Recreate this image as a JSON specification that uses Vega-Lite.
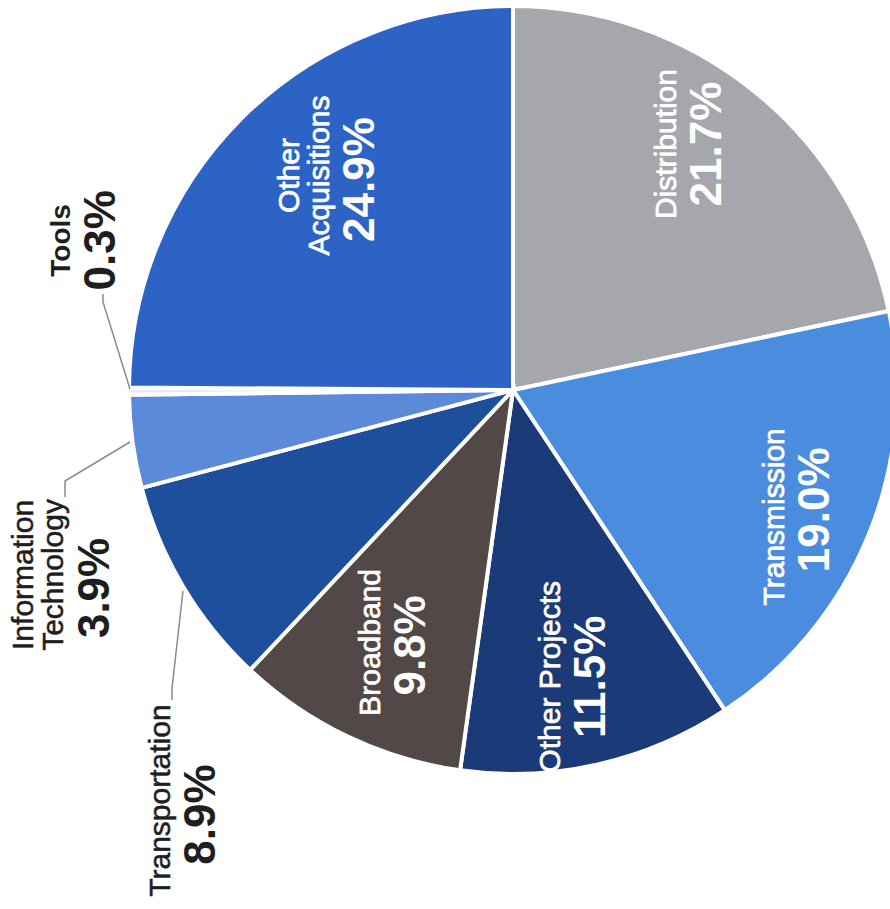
{
  "$schema": "https://vega.github.io/schema/vega-lite/v6.json",
  "width": 1026,
  "height": 780,
  "autosize": "none",
  "padding": {"top": 0, "left": 0, "right": 0, "bottom": 130},
  "background": "white",
  "config": {"view": {"stroke": null}},
  "layer": [
    {
      "data": {"values": [
        {"idx": 1, "cat": "Distribution", "value": 21.7, "name": "Distribution", "pct": "21.7%"},
        {"idx": 2, "cat": "Transmission", "value": 19.0, "name": "Transmission", "pct": "19.0%"},
        {"idx": 3, "cat": "Other Projects", "value": 11.5, "name": "Other Projects", "pct": "11.5%"},
        {"idx": 4, "cat": "Broadband", "value": 9.8, "name": "Broadband", "pct": "9.8%"},
        {"idx": 5, "cat": "Transportation", "value": 8.9, "name": "Transportation", "pct": "8.9%"},
        {"idx": 6, "cat": "Information Technology", "value": 3.9, "name": "Information|Technology", "pct": "3.9%"},
        {"idx": 7, "cat": "Tools", "value": 0.3, "name": "Tools", "pct": "0.3%"},
        {"idx": 8, "cat": "Other Acquisitions", "value": 24.9, "name": "Other|Acquisitions", "pct": "24.9%"}
      ]},
      "encoding": {
        "theta": {"field": "value", "type": "quantitative", "stack": true},
        "order": {"field": "idx", "type": "quantitative"}
      },
      "layer": [
        {
          "mark": {"type": "arc", "outerRadius": 384, "stroke": "white", "strokeWidth": 4},
          "encoding": {
            "color": {"field": "cat", "type": "nominal", "legend": null,
              "scale": {
                "domain": ["Distribution", "Transmission", "Other Projects", "Broadband", "Transportation", "Information Technology", "Tools", "Other Acquisitions"],
                "range": ["#a6a7ad", "#4a8ddf", "#1b3a78", "#524848", "#1e4f9c", "#5b8ad8", "#e4ebf6", "#2c63c5"]
              }}
          }
        },
        {"mark": {"type": "text", "radius": 300, "angle": 270, "align": "center", "baseline": "bottom", "dx": 13, "dy": -20, "fontSize": 30, "font": "Liberation Sans", "fill": "white", "stroke": "white", "strokeWidth": 0.7, "lineBreak": "|", "lineHeight": 30},
         "encoding": {"text": {"condition": {"test": "datum.cat === 'Distribution'", "field": "name"}, "value": ""}}},
        {"mark": {"type": "text", "radius": 300, "angle": 270, "align": "center", "baseline": "top", "dx": 13, "dy": -16, "fontSize": 44, "fontWeight": "bold", "font": "Liberation Sans", "fill": "white"},
         "encoding": {"text": {"condition": {"test": "datum.cat === 'Distribution'", "field": "pct"}, "value": ""}}},

        {"mark": {"type": "text", "radius": 305, "angle": 270, "align": "center", "baseline": "bottom", "dx": -11, "dy": -5, "fontSize": 30, "font": "Liberation Sans", "fill": "white", "stroke": "white", "strokeWidth": 0.7, "lineBreak": "|", "lineHeight": 30},
         "encoding": {"text": {"condition": {"test": "datum.cat === 'Transmission'", "field": "name"}, "value": ""}}},
        {"mark": {"type": "text", "radius": 305, "angle": 270, "align": "center", "baseline": "top", "dx": -4, "dy": -1, "fontSize": 44, "fontWeight": "bold", "font": "Liberation Sans", "fill": "white"},
         "encoding": {"text": {"condition": {"test": "datum.cat === 'Transmission'", "field": "pct"}, "value": ""}}},

        {"mark": {"type": "text", "radius": 292, "angle": 270, "align": "center", "baseline": "bottom", "dx": -2, "dy": -12, "fontSize": 30, "font": "Liberation Sans", "fill": "white", "stroke": "white", "strokeWidth": 0.7, "lineBreak": "|", "lineHeight": 30},
         "encoding": {"text": {"condition": {"test": "datum.cat === 'Other Projects'", "field": "name"}, "value": ""}}},
        {"mark": {"type": "text", "radius": 292, "angle": 270, "align": "center", "baseline": "top", "dx": -2, "dy": -8, "fontSize": 44, "fontWeight": "bold", "font": "Liberation Sans", "fill": "white"},
         "encoding": {"text": {"condition": {"test": "datum.cat === 'Other Projects'", "field": "pct"}, "value": ""}}},

        {"mark": {"type": "text", "radius": 282, "angle": 270, "align": "center", "baseline": "bottom", "dx": 2, "dy": -5, "fontSize": 30, "font": "Liberation Sans", "fill": "white", "stroke": "white", "strokeWidth": 0.7, "lineBreak": "|", "lineHeight": 30},
         "encoding": {"text": {"condition": {"test": "datum.cat === 'Broadband'", "field": "name"}, "value": ""}}},
        {"mark": {"type": "text", "radius": 282, "angle": 270, "align": "center", "baseline": "top", "dx": -1, "dy": -1, "fontSize": 44, "fontWeight": "bold", "font": "Liberation Sans", "fill": "white"},
         "encoding": {"text": {"condition": {"test": "datum.cat === 'Broadband'", "field": "pct"}, "value": ""}}},

        {"mark": {"type": "text", "radius": 277, "angle": 270, "align": "center", "baseline": "bottom", "dx": 18, "dy": -13, "fontSize": 30, "font": "Liberation Sans", "fill": "white", "stroke": "white", "strokeWidth": 0.7, "lineBreak": "|", "lineHeight": 30},
         "encoding": {"text": {"condition": {"test": "datum.cat === 'Other Acquisitions'", "field": "name"}, "value": ""}}},
        {"mark": {"type": "text", "radius": 277, "angle": 270, "align": "center", "baseline": "top", "dx": 14, "dy": 21, "fontSize": 44, "fontWeight": "bold", "font": "Liberation Sans", "fill": "white"},
         "encoding": {"text": {"condition": {"test": "datum.cat === 'Other Acquisitions'", "field": "pct"}, "value": ""}}},

        {"mark": {"type": "text", "radius": 433, "angle": 270, "align": "center", "baseline": "bottom", "dx": 151, "dy": -4, "fontSize": 28, "fontWeight": "bold", "font": "Liberation Sans", "fill": "#1e1e1e"},
         "encoding": {"text": {"condition": {"test": "datum.cat === 'Tools'", "field": "name"}, "value": ""}}},
        {"mark": {"type": "text", "radius": 433, "angle": 270, "align": "center", "baseline": "top", "dx": 151, "dy": 0, "fontSize": 44, "fontWeight": "bold", "font": "Liberation Sans", "fill": "#1e1e1e"},
         "encoding": {"text": {"condition": {"test": "datum.cat === 'Tools'", "field": "pct"}, "value": ""}}},

        {"mark": {"type": "text", "radius": 445, "angle": 270, "align": "center", "baseline": "bottom", "dx": -125, "dy": -33, "fontSize": 30, "font": "Liberation Sans", "fill": "#1e1e1e", "stroke": "#1e1e1e", "strokeWidth": 0.5, "lineBreak": "|", "lineHeight": 30},
         "encoding": {"text": {"condition": {"test": "datum.cat === 'Information Technology'", "field": "name"}, "value": ""}}},
        {"mark": {"type": "text", "radius": 445, "angle": 270, "align": "center", "baseline": "top", "dx": -138, "dy": 2, "fontSize": 44, "fontWeight": "bold", "font": "Liberation Sans", "fill": "#1e1e1e"},
         "encoding": {"text": {"condition": {"test": "datum.cat === 'Information Technology'", "field": "pct"}, "value": ""}}},

        {"mark": {"type": "text", "radius": 390, "angle": 270, "align": "center", "baseline": "bottom", "dx": -211, "dy": -2, "fontSize": 30, "font": "Liberation Sans", "fill": "#1e1e1e", "stroke": "#1e1e1e", "strokeWidth": 0.5, "lineBreak": "|", "lineHeight": 30},
         "encoding": {"text": {"condition": {"test": "datum.cat === 'Transportation'", "field": "name"}, "value": ""}}},
        {"mark": {"type": "text", "radius": 390, "angle": 270, "align": "center", "baseline": "top", "dx": -225, "dy": 2, "fontSize": 44, "fontWeight": "bold", "font": "Liberation Sans", "fill": "#1e1e1e"},
         "encoding": {"text": {"condition": {"test": "datum.cat === 'Transportation'", "field": "pct"}, "value": ""}}}
      ]
    },
    {
      "data": {"values": [
        {"cat": "Tools", "seq": 1, "x": -0.9974, "y": 0.0026},
        {"cat": "Tools", "seq": 2, "x": -1.0677, "y": 0.2292},
        {"cat": "Tools", "seq": 3, "x": -1.0677, "y": 0.25},
        {"cat": "Information Technology", "seq": 1, "x": -0.9974, "y": -0.1354},
        {"cat": "Information Technology", "seq": 2, "x": -1.1667, "y": -0.237},
        {"cat": "Information Technology", "seq": 3, "x": -1.1667, "y": -0.2786},
        {"cat": "Transportation", "seq": 1, "x": -0.8594, "y": -0.5234},
        {"cat": "Transportation", "seq": 2, "x": -0.888, "y": -0.776},
        {"cat": "Transportation", "seq": 3, "x": -0.888, "y": -0.8073}
      ]},
      "mark": {"type": "line", "stroke": "#8a8a8a", "strokeWidth": 1.5},
      "encoding": {
        "x": {"field": "x", "type": "quantitative", "scale": {"domain": [-1.33594, 1.33594], "nice": false, "zero": false}, "axis": null},
        "y": {"field": "y", "type": "quantitative", "scale": {"domain": [-1.015625, 1.015625], "nice": false, "zero": false}, "axis": null},
        "detail": {"field": "cat", "type": "nominal"},
        "order": {"field": "seq", "type": "quantitative"}
      }
    }
  ]
}
